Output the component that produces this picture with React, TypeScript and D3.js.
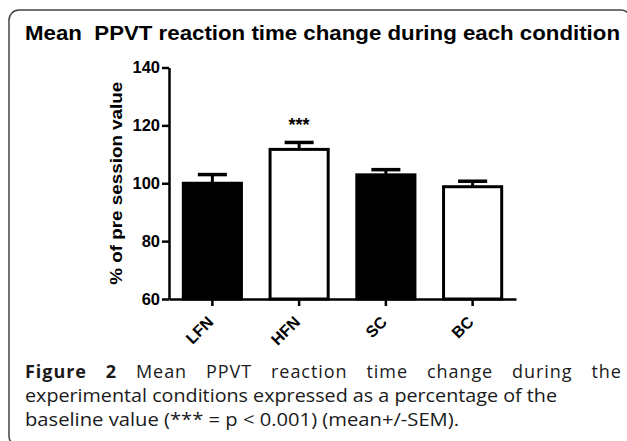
import React, { useEffect, useRef } from 'react';
import * as d3 from 'd3';

const categories = ['LFN', 'HFN', 'SC', 'BC'];
const means = [100.0, 111.7, 102.9, 98.8];
const sems = [3.0, 2.4, 1.8, 1.9];
const sigMarks = ['', '***', '', ''];
const yTicks = [60, 80, 100, 120, 140];

const chartTitle = 'Mean  PPVT reaction time change during each condition';
const yLabel = '% of pre session value';
const figLabel = 'Figure 2';
const captionLines = [
  'Mean PPVT reaction time change during the',
  'experimental conditions expressed as a percentage of the',
  'baseline value (*** = p < 0.001) (mean+/-SEM).',
];

const barFill = (i: number) => (i % 2 === 0 ? '#000' : '#fff');

const W = 627;
const H = 441;
const FONT = '"Liberation Sans", Arial, Helvetica, sans-serif';
const CAPTION_FONT = '"Open Sans", "Noto Sans", sans-serif';

export default function App() {
  const svgRef = useRef<SVGSVGElement>(null);

  useEffect(() => {
    if (!svgRef.current) return;
    const svg = d3.select(svgRef.current);
    svg.selectAll('*').remove();

    // frame
    svg.append('rect')
      .attr('x', 9).attr('y', 10)
      .attr('width', 622).attr('height', 436)
      .attr('rx', 10)
      .attr('fill', 'none')
      .attr('stroke', '#444')
      .attr('stroke-width', 1.5);

    svg.append('text')
      .attr('x', 25).attr('y', 40)
      .attr('font-family', FONT)
      .attr('font-weight', 'bold')
      .attr('font-size', 19.5)
      .attr('textLength', 595)
      .attr('lengthAdjust', 'spacingAndGlyphs')
      .style('white-space', 'pre')
      .text(chartTitle);

    const x = d3.scaleBand<string>()
      .domain(categories)
      .range([169, 516])
      .paddingInner(0.33)
      .paddingOuter(0.165);

    const y = d3.scaleLinear()
      .domain([60, 140])
      .range([299, 67.5]);

    const g = svg.append('g');

    // bars
    g.selectAll('.bar')
      .data(categories)
      .enter()
      .append('rect')
      .attr('class', 'bar')
      .attr('x', d => x(d)!)
      .attr('y', (d, i) => y(means[i]))
      .attr('width', x.bandwidth())
      .attr('height', (d, i) => y(60) - y(means[i]))
      .attr('fill', (d, i) => barFill(i))
      .attr('stroke', '#000')
      .attr('stroke-width', 3);

    // error bars
    const cx = (d: string) => x(d)! + x.bandwidth() / 2;
    g.selectAll('.err')
      .data(categories)
      .enter()
      .append('line')
      .attr('x1', cx).attr('x2', cx)
      .attr('y1', (d, i) => y(means[i]))
      .attr('y2', (d, i) => y(means[i] + sems[i]))
      .attr('stroke', '#000')
      .attr('stroke-width', 3);

    g.selectAll('.cap')
      .data(categories)
      .enter()
      .append('line')
      .attr('x1', d => cx(d) - x.bandwidth() / 4)
      .attr('x2', d => cx(d) + x.bandwidth() / 4)
      .attr('y1', (d, i) => y(means[i] + sems[i]))
      .attr('y2', (d, i) => y(means[i] + sems[i]))
      .attr('stroke', '#000')
      .attr('stroke-width', 3.5);

    g.selectAll('.sig')
      .data(categories)
      .enter()
      .append('text')
      .attr('x', cx)
      .attr('y', (d, i) => y(means[i] + sems[i]) - 11)
      .attr('text-anchor', 'middle')
      .attr('font-family', FONT)
      .attr('font-weight', 'bold')
      .attr('font-size', 18)
      .text((d, i) => sigMarks[i]);

    // axes
    const yAxis = g.append('g')
      .attr('transform', `translate(169,0)`)
      .call(d3.axisLeft(y).tickValues(yTicks).tickSize(7).tickSizeOuter(0).tickPadding(2));
    yAxis.select('.domain').attr('stroke', '#000').attr('stroke-width', 2.5);
    yAxis.selectAll('.tick line').attr('stroke', '#000').attr('stroke-width', 2.5);
    yAxis.selectAll('.tick text')
      .attr('font-family', FONT)
      .attr('font-weight', 'bold')
      .attr('font-size', 16.5)
      .attr('fill', '#000');

    const xAxis = g.append('g')
      .attr('transform', `translate(0,299)`)
      .call(d3.axisBottom(x).tickSize(7).tickSizeOuter(0));
    xAxis.select('.domain').attr('stroke', '#000').attr('stroke-width', 2.5);
    xAxis.selectAll('.tick line').attr('stroke', '#000').attr('stroke-width', 2.5);
    xAxis.selectAll('.tick text')
      .attr('x', 0).attr('y', 0).attr('dy', null)
      .attr('transform', 'translate(2,24) rotate(-45)')
      .attr('text-anchor', 'end')
      .attr('font-family', FONT)
      .attr('font-weight', 'bold')
      .attr('font-size', 16)
      .attr('fill', '#000');

    svg.append('text')
      .attr('transform', `translate(122,${y(100)}) rotate(-90)`)
      .attr('text-anchor', 'middle')
      .attr('font-family', FONT)
      .attr('font-weight', 'bold')
      .attr('font-size', 17)
      .attr('textLength', 203)
      .attr('lengthAdjust', 'spacingAndGlyphs')
      .text(yLabel);

    // caption, first line justified with word spacing
    const cap = svg.append('g')
      .attr('font-family', CAPTION_FONT)
      .attr('font-size', 18)
      .attr('fill', '#1a1a1a');
    const l1 = cap.append('text')
      .attr('x', 25).attr('y', 378);
    l1.append('tspan').attr('font-weight', 'bold').text(figLabel + ' ');
    l1.append('tspan').text(captionLines[0]);
    const natural = (l1.node() as SVGTextElement).getComputedTextLength();
    const gaps = (figLabel + ' ' + captionLines[0]).split(' ').length - 1;
    const extra = Math.max(0, 595 - natural);
    l1.attr('letter-spacing', (extra * 0.3) / 48)
      .attr('word-spacing', (extra * 0.7) / gaps);

    cap.append('text')
      .attr('x', 25).attr('y', 402)
      .attr('textLength', 532)
      .attr('lengthAdjust', 'spacingAndGlyphs')
      .text(captionLines[1]);
    cap.append('text')
      .attr('x', 25).attr('y', 426)
      .attr('textLength', 434)
      .attr('lengthAdjust', 'spacingAndGlyphs')
      .text(captionLines[2]);
  }, []);

  return (
    <svg
      ref={svgRef}
      width={W}
      height={H}
      style={{ position: 'absolute', left: 0, top: 0, background: '#fff' }}
    />
  );
}
